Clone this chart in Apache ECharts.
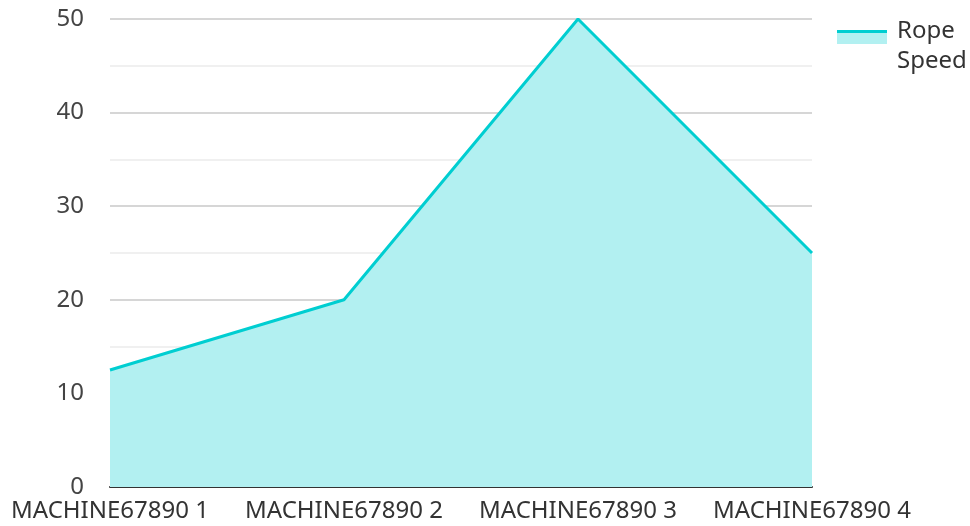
<!DOCTYPE html>
<html>
<head>
<meta charset="utf-8">
<script src="https://cdn.jsdelivr.net/npm/echarts@6/dist/echarts.min.js"></script>
<style>
  html, body { margin: 0; padding: 0; background: #fff; }
  #main { width: 970px; height: 526px; }
</style>
</head>
<body>
<div id="main"></div>
<script>
// 数据
var categories = ['MACHINE67890 1', 'MACHINE67890 2', 'MACHINE67890 3', 'MACHINE67890 4'];
var ropeSpeed = [12.5, 20, 50, 25];
var seriesName = 'Rope Speed';

var chart = echarts.init(document.getElementById('main'));
var font = 'Noto Sans';

// 图例拆成三层：线条、浅色区域、文字
function legendPart(top, icon, h, color, withText) {
  return {
    left: 837, top: top,
    padding: 0,
    orient: 'vertical',
    icon: icon,
    itemWidth: 50, itemHeight: h,
    itemGap: 0,
    selectedMode: false,
    data: [seriesName],
    itemStyle: { color: color, borderWidth: 0 },
    formatter: withText ? function (n) { return n.replace(' ', '\n'); } : function () { return ''; },
    textStyle: withText
      ? { fontFamily: font, fontSize: 24, lineHeight: 30, color: '#333', padding: [0, 0, 0, 5] }
      : { fontSize: 1, color: 'rgba(0,0,0,0)' }
  };
}

var option = {
  animation: false,
  textStyle: { fontFamily: font },
  grid: { left: 110, right: 158, top: 19, bottom: 39 },
  legend: [
    legendPart(30, 'rect', 3, '#00ced1', false),
    legendPart(33, 'rect', 11, '#b2f0f1', false),
    legendPart(16, 'none', 14, '#b2f0f1', true)
  ],
  xAxis: {
    type: 'category',
    data: categories,
    boundaryGap: false,
    axisLine: { lineStyle: { color: '#333', width: 2 } },
    axisTick: { show: false },
    axisLabel: { fontFamily: font, fontSize: 24, color: '#333', margin: 12, interval: 0 }
  },
  yAxis: {
    type: 'value',
    min: 0, max: 50, interval: 10,
    axisLine: { show: false },
    axisTick: { show: false },
    axisLabel: { fontFamily: font, fontSize: 24, color: '#444', margin: 26 },
    splitLine: { lineStyle: { color: '#c8c8c8', width: 1.5 } },
    minorTick: { show: false, splitNumber: 2 },
    minorSplitLine: { show: true, lineStyle: { color: '#ebebeb', width: 1.5 } }
  },
  series: [
    {
      name: seriesName,
      type: 'line',
      data: ropeSpeed,
      symbol: 'none',
      lineStyle: { color: '#00ced1', width: 3 },
      itemStyle: { color: '#00ced1' },
      areaStyle: { color: '#b2f0f1', opacity: 1 }
    }
  ]
};
chart.setOption(option);
</script>
</body>
</html>
